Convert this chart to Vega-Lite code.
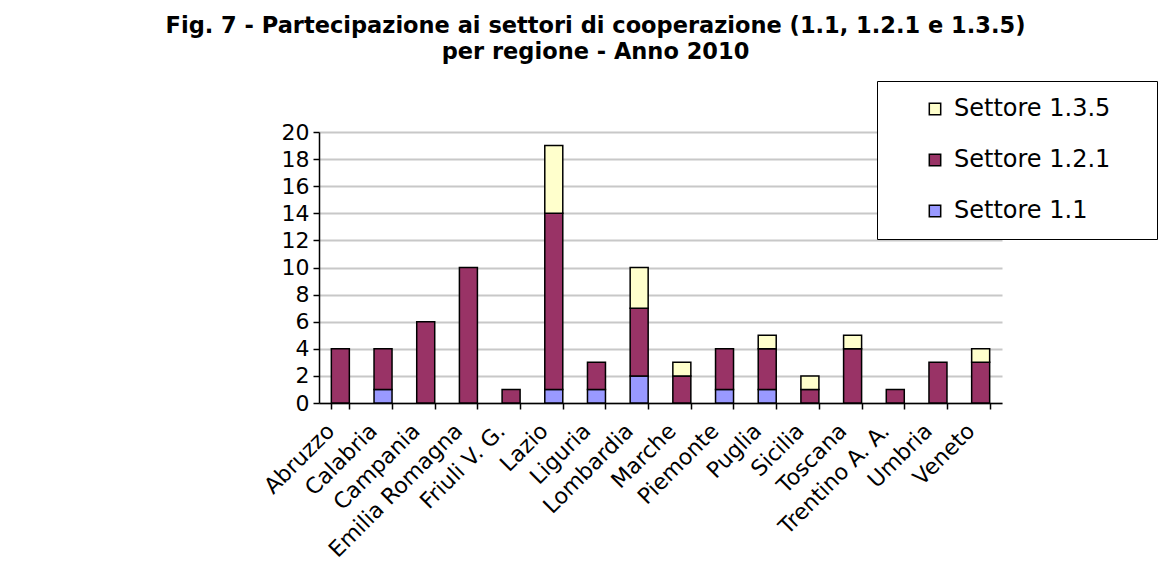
{
  "$schema": "https://vega.github.io/schema/vega-lite/v6.json",
  "autosize": {"type": "none"},
  "width": 683,
  "height": 271,
  "padding": {"left": 319, "top": 132, "right": 166, "bottom": 166},
  "background": "white",
  "title": {
    "text": ["Fig. 7 - Partecipazione ai settori di cooperazione (1.1, 1.2.1 e 1.3.5)", "per regione - Anno 2010"],
    "anchor": "middle",
    "frame": "group",
    "dx": -65,
    "offset": 17,
    "font": "DejaVu Sans",
    "fontSize": 22.5,
    "fontWeight": "bold",
    "lineHeight": 26,
    "color": "black"
  },
  "data": {
    "values": [
      {"regione": "Abruzzo", "settore": "Settore 1.2.1", "k": 2, "n": 4},
      {"regione": "Calabria", "settore": "Settore 1.1", "k": 1, "n": 1},
      {"regione": "Calabria", "settore": "Settore 1.2.1", "k": 2, "n": 3},
      {"regione": "Campania", "settore": "Settore 1.2.1", "k": 2, "n": 6},
      {"regione": "Emilia Romagna", "settore": "Settore 1.2.1", "k": 2, "n": 10},
      {"regione": "Friuli V. G.", "settore": "Settore 1.2.1", "k": 2, "n": 1},
      {"regione": "Lazio", "settore": "Settore 1.1", "k": 1, "n": 1},
      {"regione": "Lazio", "settore": "Settore 1.2.1", "k": 2, "n": 13},
      {"regione": "Lazio", "settore": "Settore 1.3.5", "k": 3, "n": 5},
      {"regione": "Liguria", "settore": "Settore 1.1", "k": 1, "n": 1},
      {"regione": "Liguria", "settore": "Settore 1.2.1", "k": 2, "n": 2},
      {"regione": "Lombardia", "settore": "Settore 1.1", "k": 1, "n": 2},
      {"regione": "Lombardia", "settore": "Settore 1.2.1", "k": 2, "n": 5},
      {"regione": "Lombardia", "settore": "Settore 1.3.5", "k": 3, "n": 3},
      {"regione": "Marche", "settore": "Settore 1.2.1", "k": 2, "n": 2},
      {"regione": "Marche", "settore": "Settore 1.3.5", "k": 3, "n": 1},
      {"regione": "Piemonte", "settore": "Settore 1.1", "k": 1, "n": 1},
      {"regione": "Piemonte", "settore": "Settore 1.2.1", "k": 2, "n": 3},
      {"regione": "Puglia", "settore": "Settore 1.1", "k": 1, "n": 1},
      {"regione": "Puglia", "settore": "Settore 1.2.1", "k": 2, "n": 3},
      {"regione": "Puglia", "settore": "Settore 1.3.5", "k": 3, "n": 1},
      {"regione": "Sicilia", "settore": "Settore 1.2.1", "k": 2, "n": 1},
      {"regione": "Sicilia", "settore": "Settore 1.3.5", "k": 3, "n": 1},
      {"regione": "Toscana", "settore": "Settore 1.2.1", "k": 2, "n": 4},
      {"regione": "Toscana", "settore": "Settore 1.3.5", "k": 3, "n": 1},
      {"regione": "Trentino A. A.", "settore": "Settore 1.2.1", "k": 2, "n": 1},
      {"regione": "Umbria", "settore": "Settore 1.2.1", "k": 2, "n": 3},
      {"regione": "Veneto", "settore": "Settore 1.2.1", "k": 2, "n": 3},
      {"regione": "Veneto", "settore": "Settore 1.3.5", "k": 3, "n": 1}
    ]
  },
  "mark": {"type": "bar", "size": 18, "stroke": "black", "strokeWidth": 1.5},
  "encoding": {
    "x": {
      "field": "regione",
      "type": "nominal",
      "sort": null,
      "scale": {"paddingInner": 0.58, "paddingOuter": 0.29},
      "axis": {
        "title": null,
        "labelAngle": -45,
        "labelAlign": "right",
        "labelBaseline": "middle",
        "labelOffset": -10,
        "labelPadding": 18,
        "labelFont": "DejaVu Sans",
        "labelFontSize": 22,
        "labelColor": "black",
        "tickBand": "extent",
        "tickSize": 6,
        "tickColor": "black",
        "domainColor": "black",
        "domainWidth": 1.5,
        "tickWidth": 1.5,
        "grid": false
      }
    },
    "y": {
      "field": "n",
      "type": "quantitative",
      "stack": "zero",
      "scale": {"domain": [0, 20], "nice": false},
      "axis": {
        "title": null,
        "values": [0, 2, 4, 6, 8, 10, 12, 14, 16, 18, 20],
        "labelFont": "DejaVu Sans",
        "labelFontSize": 22,
        "labelColor": "black",
        "labelPadding": 4,
        "tickSize": 6,
        "tickColor": "black",
        "tickWidth": 1.5,
        "domainColor": "black",
        "domainWidth": 1.5,
        "gridColor": "#c8c8c8",
        "gridWidth": 2
      }
    },
    "color": {
      "field": "settore",
      "type": "nominal",
      "scale": {
        "domain": ["Settore 1.3.5", "Settore 1.2.1", "Settore 1.1"],
        "range": ["#FFFFCC", "#993366", "#9999FF"]
      },
      "legend": {
        "title": null,
        "orient": "none",
        "legendX": 558,
        "legendY": -51,
        "fillColor": "white",
        "strokeColor": "black",
        "padding": 16,
        "symbolType": "square",
        "symbolSize": 130,
        "symbolStrokeColor": "black",
        "symbolStrokeWidth": 1.5,
        "symbolOffset": 30,
        "labelOffset": 7,
        "labelFont": "DejaVu Sans",
        "labelFontSize": 24,
        "labelColor": "black",
        "labelLimit": 400,
        "labelExpr": "datum.label + '\u00a0\u00a0\u00a0\u00a0\u200b'",
        "rowPadding": 27
      }
    },
    "order": {"field": "k", "type": "quantitative"}
  },
  "config": {"view": {"stroke": null}}
}
